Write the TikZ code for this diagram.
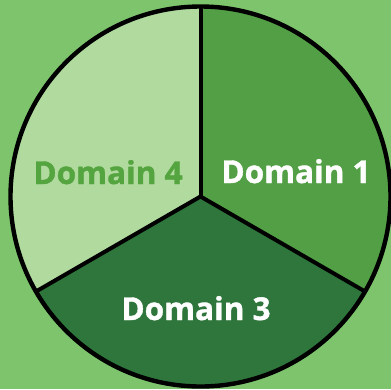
\documentclass[tikz,border=0pt]{standalone}
\usepackage{fontspec}
\setmainfont{Open Sans}[BoldFeatures={FakeBold=1.2}]
\usetikzlibrary{calc}
\definecolor{bggreen}{HTML}{7DC46D}
\definecolor{dOne}{HTML}{529F45}
\definecolor{dThree}{HTML}{2E763B}
\definecolor{dFour}{HTML}{B1DA9F}
\definecolor{dFourText}{HTML}{54A43F}
\tikzset{
  divider/.style={draw=black, line width=4pt},
  rim/.style={draw=black, line width=4.4pt},
  label/.style={font=\fontsize{31.5}{31.5}\selectfont\bfseries, anchor=base, inner sep=0pt}
}
\begin{document}
\begin{tikzpicture}[x=1pt,y=-1pt]
  \fill[bggreen] (0,0) rectangle (391,389);
  \useasboundingbox (0,0) rectangle (391,389);
  \coordinate (c) at (200.5,196.5);
  \def\R{190}
  % three sectors (y axis points down, so angles run clockwise on the page)
  \fill[dOne]   (c) -- ($(c)+(270:\R)$) arc[start angle=-90, end angle=30, radius=\R] -- cycle;
  \fill[dThree] (c) -- ($(c)+(30:\R)$) arc[start angle=30, end angle=150, radius=\R] -- cycle;
  \fill[dFour]  (c) -- ($(c)+(150:\R)$) arc[start angle=150, end angle=270, radius=\R] -- cycle;
  % spokes
  \coordinate (p1) at ($(c)+(270:\R)$);
  \coordinate (p2) at ($(c)+(150:\R)$);
  \coordinate (p3) at ($(c)+(30:\R)$);
  \draw[divider] (c) -- (p1);
  \draw[divider] (c) -- (p2);
  \draw[divider] (c) -- (p3);
  \draw[rim] (c) circle[radius=\R];
  % labels
  \node[label, text=white] (d1) at (296,183) {Domain 1};
  \node[label, text=white] (d3) at (196,320) {Domain 3};
  \node[label, text=dFourText] (d4) at (108,184) {Domain 4};
\end{tikzpicture}
\end{document}
